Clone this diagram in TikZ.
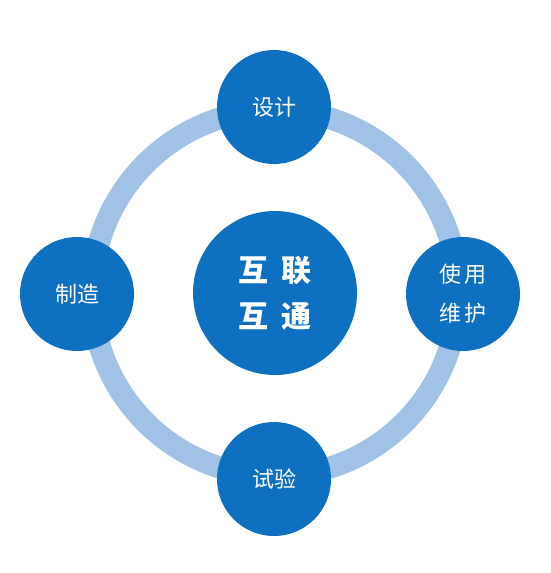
\documentclass[tikz,border=0pt]{standalone}
\usepackage{fontspec}
\newfontfamily\cjk{Noto Sans CJK SC}
\usetikzlibrary{calc}
\definecolor{circblue}{RGB}{13,112,192}
\definecolor{ringblue}{RGB}{160,194,230}

\begin{document}
\begin{tikzpicture}[x=1pt,y=-1pt,
  ring/.style={draw=ringblue, line width=22pt},
  stage/.style={circle, fill=circblue, text=white, inner sep=0pt, minimum size=114pt,
    align=center, font=\cjk\fontsize{22}{39}\selectfont},
  hub/.style={circle, fill=circblue, text=white, inner sep=0pt, minimum size=164pt,
    align=center, font=\cjk\bfseries\fontsize{30}{46}\selectfont}]
  \useasboundingbox (0,0) rectangle (550,573);
  \coordinate (O) at (275,293);
  % ring
  \draw[ring] (O) circle [radius=183];
  % centre
  \node[hub] (hub) at (O) {互\hspace{14pt}联\\互\hspace{14pt}通};
  % stages round the ring
  \node[stage] (design) at (274,107) {设计};
  \node[stage] (maint) at (463,294) {使\hspace{3pt}用\\维\hspace{3pt}护};
  \node[stage] (test) at (274,479) {试验};
  \node[stage] (manuf) at (77,294) {制造};
\end{tikzpicture}
\end{document}
